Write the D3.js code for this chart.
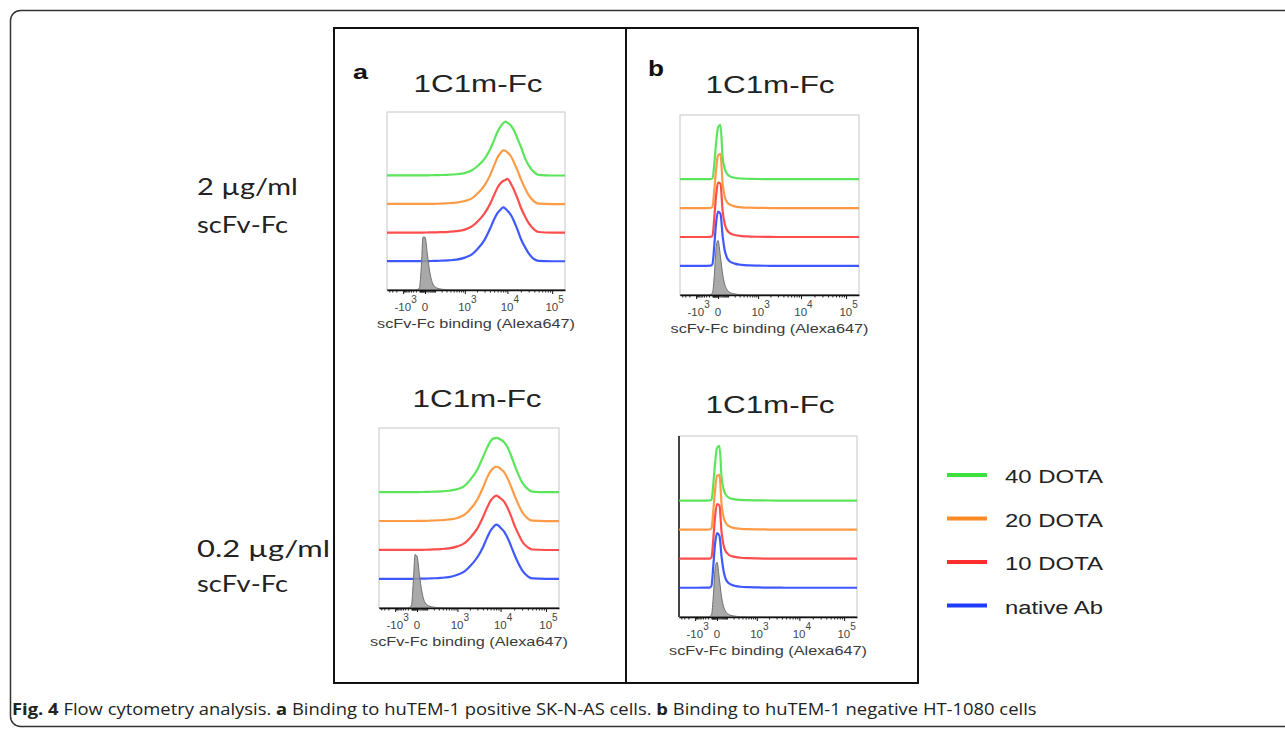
<!DOCTYPE html>
<html>
<head>
<meta charset="utf-8">
<script src="https://cdn.jsdelivr.net/npm/d3@7"></script>
<style>
body { margin: 0; background: #fff; }
svg { display: block; }
</style>
</head>
<body>
<svg id="fig" width="1285" height="732"></svg>
<script>
// fluorescence intensity bins (Alexa647), shared by all histograms
var bins = [-5000, -1000, -300, -150, -100, -60, -30, 0, 20, 40, 60, 80, 120, 200, 350, 600,
  1000, 1500, 2000, 3000, 4000, 5000, 6000, 7000, 8000, 9000,
  10000, 12000, 14000, 17000, 20000, 25000, 30000, 40000, 50000, 100000, 193000];

// % of mode
// a: SK-N-AS, 2 ug/ml
var aTopGreen  = [0.5,0.5,0.5,0.5,0.5,0.5,0.5,0.6,0.6,0.7,0.7,0.8,0.9,1.2,1.6,2.6,5,10,17,31,48,66,82,91,97,100,98,93,84,68,54,32,19,6,1.5,0.3,0.3];
var aTopOrange = [0.5,0.5,0.5,0.5,0.5,0.5,0.5,0.6,0.6,0.6,0.7,0.8,0.9,1.3,1.8,3,6,11,19,35,53,72,87,95,100,99,96,89,78,62,47,29,17,5,1.2,0.3,0.3];
var aTopRed    = [0.5,0.5,0.5,0.5,0.5,0.5,0.5,0.6,0.6,0.7,0.7,0.8,1,1.3,1.9,3,6,12,20,36,53,70,84,92,96,98,100,91,80,63,47,30,18,6,1.5,0.3,0.3];
var aTopBlue   = [0.5,0.5,0.5,0.5,0.5,0.5,0.5,0.6,0.7,0.7,0.8,0.9,1,1.4,2,3.2,7,13,22,40,60,78,90,96,100,98,94,86,75,58,42,26,15,4,1,0.3,0.3];
var aTopCtrl   = [0,0,0,1,5,45,98,98,65,35,18,10,4,1.5,0.5,0,0,0,0,0,0,0,0,0,0,0,0,0,0,0,0,0,0,0,0,0,0];
// a: SK-N-AS, 0.2 ug/ml
var aBotGreen  = [0.5,0.5,0.5,0.5,0.5,0.5,0.5,0.6,0.6,0.7,0.7,0.8,1,1.3,1.8,3,6,12,22,42,64,82,94,99,100,99,97,92,84,68,52,32,18,6,1.5,0.3,0.3];
var aBotOrange = [0.5,0.5,0.5,0.5,0.5,0.5,0.5,0.6,0.6,0.6,0.7,0.8,1,1.4,1.9,3.2,6,12,21,40,61,80,92,98,100,99,96,90,80,64,49,30,17,5,1.2,0.3,0.3];
var aBotRed    = [0.5,0.5,0.5,0.5,0.5,0.5,0.5,0.6,0.6,0.7,0.7,0.8,1,1.4,2,3.3,7,13,22,40,60,78,91,97,100,98,95,89,79,63,47,29,16,5,1.2,0.3,0.3];
var aBotBlue   = [0.5,0.5,0.5,0.5,0.5,0.5,0.5,0.6,0.7,0.7,0.8,0.9,1.1,1.5,2.2,3.5,8,14,23,40,58,76,89,96,100,98,94,87,77,61,46,28,16,5,1.2,0.3,0.3];
var aBotCtrl   = [0,0,0,1,6,50,98,95,60,32,16,9,4,1.5,0.5,0,0,0,0,0,0,0,0,0,0,0,0,0,0,0,0,0,0,0,0,0,0];
// b: HT-1080, 2 ug/ml
var bTopGreen  = [0.3,0.3,0.3,0.5,2,30,65,95,100,40,20,12,6,3,1.5,1,0.7,0.5,0.4,0.3,0.3,0.3,0.3,0.3,0.3,0.3,0.3,0.3,0.3,0.3,0.3,0.3,0.3,0.3,0.3,0.3,0.3];
var bTopOrange = [0.3,0.3,0.3,0.5,3,35,70,97,100,45,22,13,7,3.5,1.8,1.1,0.8,0.6,0.4,0.3,0.3,0.3,0.3,0.3,0.3,0.3,0.3,0.3,0.3,0.3,0.3,0.3,0.3,0.3,0.3,0.3,0.3];
var bTopRed    = [0.3,0.3,0.3,0.6,3,38,75,100,98,48,25,15,8,4,2,1.2,0.8,0.6,0.4,0.3,0.3,0.3,0.3,0.3,0.3,0.3,0.3,0.3,0.3,0.3,0.3,0.3,0.3,0.3,0.3,0.3,0.3];
var bTopBlue   = [0.3,0.3,0.4,0.7,4,40,78,100,96,55,30,18,9,4.5,2.2,1.3,0.9,0.6,0.5,0.4,0.4,0.3,0.3,0.3,0.3,0.3,0.3,0.3,0.3,0.3,0.3,0.3,0.3,0.3,0.3,0.3,0.3];
var bTopCtrl   = [0,0,0,1,4,38,85,100,70,38,20,12,5,2,0.5,0,0,0,0,0,0,0,0,0,0,0,0,0,0,0,0,0,0,0,0,0,0];
// b: HT-1080, 0.2 ug/ml
var bBotGreen  = [0.3,0.3,0.3,0.5,2,32,68,96,100,42,21,12,6,3,1.5,1,0.7,0.5,0.4,0.3,0.3,0.3,0.3,0.3,0.3,0.3,0.3,0.3,0.3,0.3,0.3,0.3,0.3,0.3,0.3,0.3,0.3];
var bBotOrange = [0.3,0.3,0.3,0.5,3,36,72,98,100,46,23,14,7,3.5,1.8,1.1,0.8,0.6,0.4,0.3,0.3,0.3,0.3,0.3,0.3,0.3,0.3,0.3,0.3,0.3,0.3,0.3,0.3,0.3,0.3,0.3,0.3];
var bBotRed    = [0.3,0.3,0.3,0.6,3,38,76,100,97,48,25,15,8,4,2,1.2,0.8,0.6,0.4,0.3,0.3,0.3,0.3,0.3,0.3,0.3,0.3,0.3,0.3,0.3,0.3,0.3,0.3,0.3,0.3,0.3,0.3];
var bBotBlue   = [0.3,0.3,0.4,0.7,4,42,80,100,95,56,31,18,9,4.5,2.2,1.3,0.9,0.6,0.5,0.4,0.4,0.3,0.3,0.3,0.3,0.3,0.3,0.3,0.3,0.3,0.3,0.3,0.3,0.3,0.3,0.3,0.3];
var bBotCtrl   = [0,0,0,1,4,40,86,100,68,36,19,11,5,2,0.5,0,0,0,0,0,0,0,0,0,0,0,0,0,0,0,0,0,0,0,0,0,0];

var seriesNames  = ["40 DOTA", "20 DOTA", "10 DOTA", "native Ab"];
var seriesColors = ["#3ee03e", "#ff8a26", "#ff2e2e", "#1e3cff"];
var majorTicks = [-1000, 0, 1000, 10000, 100000];
var majorExp   = ["3", "", "3", "4", "5"];
var panelTitle = "1C1m-Fc";
var axisTitle = "scFv-Fc binding (Alexa647)";

var svg = d3.select("#fig");

// stretch a text horizontally so that it spans w pixels
function fitText(t, w) {
  var n = t.node().getComputedTextLength();
  var x = +t.attr("x"), y = +t.attr("y");
  t.attr("x", 0).attr("y", 0)
   .attr("transform", "translate(" + x + "," + y + ") scale(" + (w / n) + ",1)");
  return t;
}

// frames
svg.append("rect")
    .attr("x", 10.5).attr("y", 10.5).attr("width", 1320).attr("height", 716).attr("rx", 10)
    .attr("fill", "none").attr("stroke", "#333").attr("stroke-width", 1.5);
svg.append("rect")
    .attr("x", 334).attr("y", 28).attr("width", 584).attr("height", 655)
    .attr("fill", "none").attr("stroke", "#111").attr("stroke-width", 2);
svg.append("line")
    .attr("x1", 626).attr("x2", 626).attr("y1", 28).attr("y2", 683)
    .attr("stroke", "#111").attr("stroke-width", 2);

var panels = [
  {x: 387, y: 112, w: 178, h: 178, tx: 478, ty: 92,  series: [aTopGreen, aTopOrange, aTopRed, aTopBlue], ctrl: aTopCtrl},
  {x: 379, y: 428, w: 180, h: 180, tx: 477, ty: 407, series: [aBotGreen, aBotOrange, aBotRed, aBotBlue], ctrl: aBotCtrl},
  {x: 680, y: 115, w: 179, h: 180, tx: 770, ty: 93,  series: [bTopGreen, bTopOrange, bTopRed, bTopBlue], ctrl: bTopCtrl},
  {x: 679, y: 436, w: 178, h: 181, tx: 770, ty: 413, series: [bBotGreen, bBotOrange, bBotRed, bBotBlue], ctrl: bBotCtrl, darkLeft: true}
];

var minorTicks = [];
[-1, 1].forEach(function(s) {
  for (var k = 1; k < 10; k++) { minorTicks.push(s * k * 10); minorTicks.push(s * k * 100); }
  for (var k = 2; k < 10; k++) minorTicks.push(s * k * 1000);
});
for (var k = 2; k < 10; k++) minorTicks.push(k * 10000);
minorTicks = minorTicks.filter(function(v) { return v > -5000 && v < 193000; });

panels.forEach(function(p) {
  // biexponential-like display: 0 sits 38px in from the left
  var x = d3.scaleSymlog().constant(150)
      .domain([-5000, 0, 193000])
      .range([p.x, p.x + 38, p.x + p.w]);
  var y = d3.scaleLinear().domain([0, 330]).range([p.y + p.h, p.y]);
  var g = svg.append("g");

  g.append("rect")
      .attr("x", p.x).attr("y", p.y).attr("width", p.w).attr("height", p.h)
      .attr("fill", "none").attr("stroke", "#c6c6c6").attr("stroke-width", 1);
  if (p.darkLeft) {
    g.append("line").attr("x1", p.x).attr("x2", p.x).attr("y1", p.y).attr("y2", p.y + p.h)
        .attr("stroke", "#444").attr("stroke-width", 2);
  }

  p.series.forEach(function(vals, i) {
    var off = (4 - i) * 53;
    var line = d3.line()
        .x(function(d, j) { return x(bins[j]); })
        .y(function(d) { return y(off + d); })
        .curve(d3.curveMonotoneX);
    g.append("path").datum(vals)
        .attr("d", line)
        .attr("fill", "none")
        .attr("stroke", seriesColors[i])
        .attr("stroke-opacity", 0.85)
        .attr("stroke-width", 2.2)
        .attr("stroke-linejoin", "round");
  });

  var area = d3.area()
      .x(function(d, j) { return x(bins[j]); })
      .y0(y(0))
      .y1(function(d) { return y(d); })
      .curve(d3.curveMonotoneX);
  g.append("path").datum(p.ctrl)
      .attr("d", area)
      .attr("fill", "#9a9a9a")
      .attr("fill-opacity", 0.85)
      .attr("stroke", "#6f6f6f")
      .attr("stroke-width", 1);

  var ax = p.y + p.h;
  var minor = g.append("g").attr("transform", "translate(0," + ax + ")")
      .call(d3.axisBottom(x).tickValues(minorTicks).tickSize(2.5).tickSizeOuter(0).tickFormat(""));
  minor.select(".domain").remove();
  minor.selectAll("line").attr("stroke", "#222");
  var major = g.append("g").attr("transform", "translate(0," + ax + ")")
      .call(d3.axisBottom(x).tickValues(majorTicks).tickSize(4).tickSizeOuter(0).tickFormat(""));
  major.select(".domain").attr("stroke", "#111").attr("stroke-width", 1.3);
  major.selectAll("line").attr("stroke", "#111");

  majorTicks.forEach(function(v, i) {
    var t = g.append("text")
        .attr("x", x(v) + (majorExp[i] ? 2.5 : 0)).attr("y", ax + 21)
        .attr("text-anchor", "middle")
        .attr("font-family", "Liberation Sans, Arial, sans-serif")
        .attr("font-size", 11.5).attr("fill", "#444");
    t.append("tspan").text(v === 0 ? "0" : (v < 0 ? "-10" : "10"));
    if (majorExp[i]) t.append("tspan").attr("dy", -8).attr("font-size", 10).text(majorExp[i]);
  });

  fitText(g.append("text")
      .attr("x", p.x + p.w / 2).attr("y", ax + 38)
      .attr("text-anchor", "middle")
      .attr("font-family", "Liberation Sans, Arial, sans-serif")
      .attr("font-size", 13).attr("fill", "#3a3a3a")
      .text(axisTitle), 198);

  fitText(g.append("text")
      .attr("x", p.tx).attr("y", p.ty)
      .attr("text-anchor", "middle")
      .attr("font-family", "Liberation Sans, Arial, sans-serif")
      .attr("font-size", 24).attr("fill", "#222")
      .text(panelTitle), 129);
});

// panel letters
fitText(svg.append("text").attr("x", 353).attr("y", 79)
    .attr("font-family", "Liberation Sans, Arial, sans-serif").attr("font-weight", "bold")
    .attr("font-size", 21).attr("fill", "#111").text("a"), 15);
fitText(svg.append("text").attr("x", 648).attr("y", 76)
    .attr("font-family", "Liberation Sans, Arial, sans-serif").attr("font-weight", "bold")
    .attr("font-size", 22).attr("fill", "#111").text("b"), 16);

// row labels
var rowLabels = [
  {text: "2 \u00b5g/ml", y: 195, w: 101},
  {text: "scFv-Fc", y: 233, w: 91},
  {text: "0.2 \u00b5g/ml", y: 557, w: 133},
  {text: "scFv-Fc", y: 592, w: 91}
];
rowLabels.forEach(function(r) {
  fitText(svg.append("text").attr("x", 197).attr("y", r.y)
      .attr("font-family", "Lato, Open Sans, sans-serif")
      .attr("font-size", 24).attr("fill", "#222").text(r.text), r.w);
});

// legend
seriesNames.forEach(function(name, i) {
  var ly = 475 + i * 43.5;
  svg.append("line").attr("x1", 947).attr("x2", 987).attr("y1", ly).attr("y2", ly)
      .attr("stroke", seriesColors[i]).attr("stroke-width", 4);
  fitText(svg.append("text").attr("x", 1005).attr("y", ly + 8)
      .attr("font-family", "Liberation Sans, Arial, sans-serif")
      .attr("font-size", 19).attr("fill", "#222").text(name), 98);
});

// caption
var cap = svg.append("text").attr("x", 12).attr("y", 715)
    .attr("font-family", "Open Sans, Noto Sans, sans-serif")
    .attr("font-size", 16.5).attr("fill", "#222");
cap.append("tspan").attr("font-weight", "bold").text("Fig. 4");
cap.append("tspan").text(" Flow cytometry analysis. ");
cap.append("tspan").attr("font-weight", "bold").text("a");
cap.append("tspan").text(" Binding to huTEM-1 positive SK-N-AS cells. ");
cap.append("tspan").attr("font-weight", "bold").text("b");
cap.append("tspan").text(" Binding to huTEM-1 negative HT-1080 cells");
fitText(cap, 1025);
</script>
</body>
</html>
